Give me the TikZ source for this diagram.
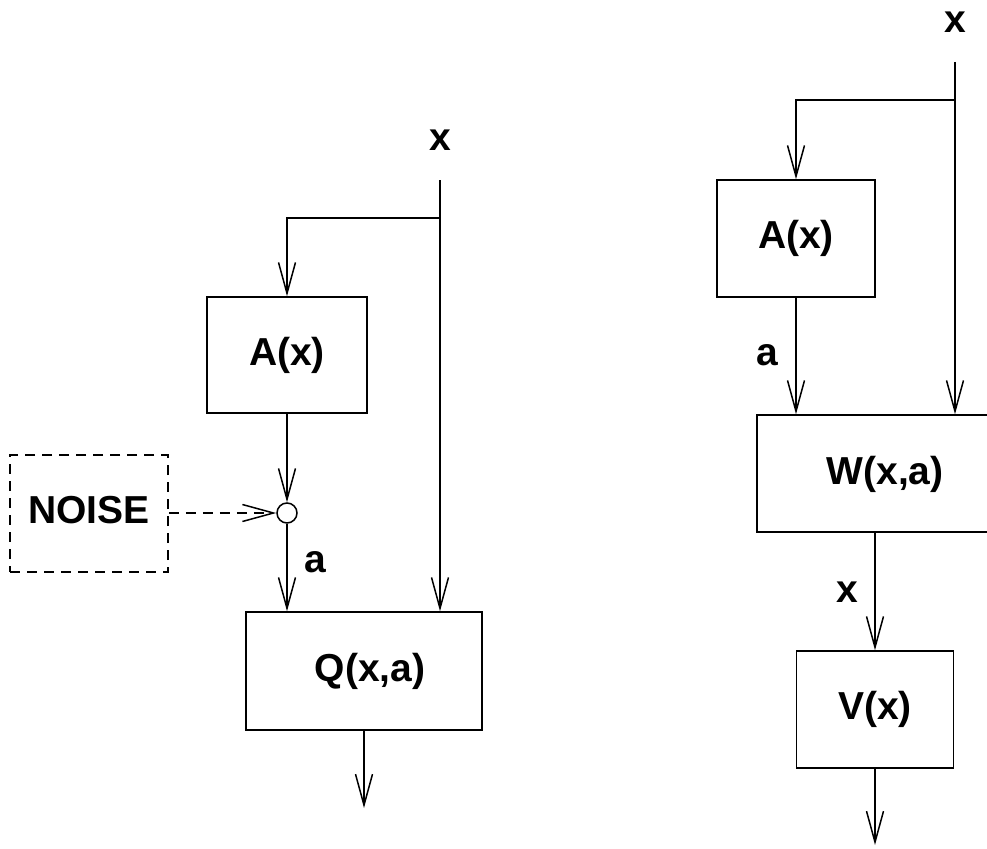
\documentclass[tikz,border=0pt]{standalone}
\usepackage{fontspec}
\setmainfont{Liberation Sans}
\usetikzlibrary{arrows.meta}
\tikzset{
  every node/.style={font=\fontsize{39}{41}\selectfont\bfseries, inner sep=0pt},
  box/.style={draw, line width=1.5pt, minimum width=#1},
  box/.default=160pt,
  dbox/.style={draw, line width=1.5pt, dash pattern=on 10pt off 7pt},
  arr/.style={line width=1.5pt, -{Straight Barb[length=31pt,width=17pt,line width=1.5pt]}},
  lbl/.style={}
}
\begin{document}
\begin{tikzpicture}[x=1pt,y=-1pt]
\path[use as bounding box, clip] (0,0) rectangle (987,848);
% left diagram
\node[lbl] (lx) at (440,140) {x};
\coordinate (xl) at (440,180);
\coordinate (lbr) at (440,218);
\node[box=160pt, minimum height=116pt] (la) at (287,355) {A(x)};
\node[circle, draw, line width=1.5pt, minimum size=20pt] (c) at (287,513) {};
\node[dbox, minimum width=158pt, minimum height=117pt] (noise) at (89,513.5) {};
\node at (89,510) {NOISE};
\node[box=236pt, minimum height=118pt] (q) at (364,671) {};
\node at (370,671) {Q(x,a)};
\coordinate (qout) at (364,808);
\node[lbl] (la2) at (315,562) {a};
\draw[line width=1.5pt] (xl) -- (lbr);
\draw[arr] (lbr) -- (lbr |- q.north);
\draw[arr] (lbr) -| (la.north);
\draw[arr] (la.south) -- (c.north);
\draw[arr] (c.south) -- (c.south |- q.north);
\draw[arr, dash pattern=on 10pt off 7pt] (noise.east |- c) -- (c.west);
\draw[arr] (q.south) -- (qout);
% right diagram
\node[lbl] (rx) at (955,22) {x};
\coordinate (xr) at (955,62);
\coordinate (rbr) at (955,100);
\node[box=158pt, minimum height=117pt] (ra) at (796,238.5) {A(x)};
\node[box=233pt, minimum height=117pt] (w) at (873.5,473.5) {};
\node at (885,474) {W(x,a)};
\node[box=157pt, minimum height=117pt] (v) at (875,709.5) {V(x)};
\coordinate (vout) at (875,845);
\node[lbl] (ra2) at (767,355) {a};
\node[lbl] (rx2) at (847,592) {x};
\draw[line width=1.5pt] (xr) -- (rbr);
\draw[arr] (rbr) -- (rbr |- w.north);
\draw[arr] (rbr) -| (ra.north);
\draw[arr] (ra.south) -- (ra.south |- w.north);
\draw[arr] (v.north |- w.south) -- (v.north);
\draw[arr] (v.south) -- (vout);
\end{tikzpicture}
\end{document}
